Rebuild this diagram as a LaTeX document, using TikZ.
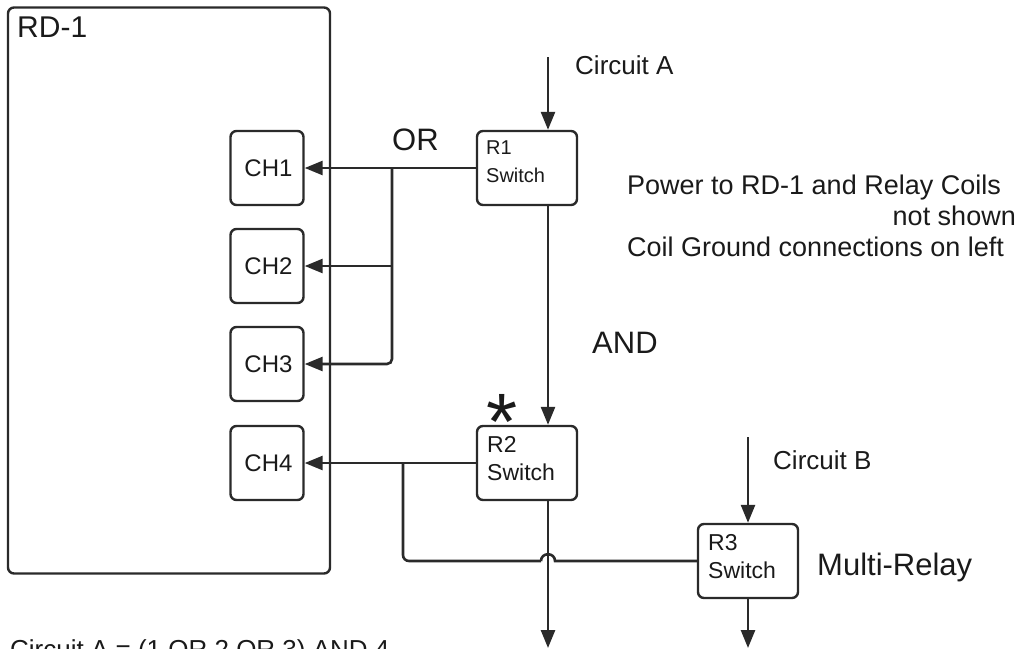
\documentclass[tikz,border=0pt]{standalone}
\usepackage{fontspec}
\setmainfont{Liberation Sans}
\usetikzlibrary{arrows.meta}
\definecolor{ln}{HTML}{2A2A2A}
\definecolor{tx}{HTML}{1A1A1A}
\tikzset{
  box/.style={draw=ln, line width=2.4pt, rounded corners=6pt, fill=white, inner sep=0pt},
  chbox/.style={box, minimum width=73pt, minimum height=74pt, font=\fontsize{24}{28}\selectfont, text=tx},
  relay/.style={box, minimum width=100pt, minimum height=74pt},
  conn/.style={draw=ln, line width=2.6pt},
  arr/.style={conn, -{Triangle[length=18pt,width=14pt]}},
  lbl/.style={text=tx, inner sep=0pt, anchor=base west},
  lblr/.style={text=tx, inner sep=0pt, anchor=base east},
  small/.style={font=\fontsize{20}{24}\selectfont},
  mid/.style={font=\fontsize{23}{27}\selectfont},
  normal/.style={font=\fontsize{26}{30}\selectfont},
  note/.style={font=\fontsize{27}{31}\selectfont},
  big/.style={font=\fontsize{31}{36}\selectfont},
}
\begin{document}
\begin{tikzpicture}[x=1pt,y=-1pt]
\useasboundingbox (0,0) rectangle (1016,648);
% RD-1 enclosure
\node[box, minimum width=322pt, minimum height=566pt] (rd) at (169,290.5) {};
\node[lbl, font=\fontsize{30}{36}\selectfont] (rdl) at (17,37) {RD-1};
% channels
\node[chbox] (ch1) at (267,168) {\hspace{3pt}CH1};
\node[chbox] (ch2) at (267,266) {\hspace{3pt}CH2};
\node[chbox] (ch3) at (267,364) {\hspace{3pt}CH3};
\node[chbox] (ch4) at (267,463) {\hspace{3pt}CH4};
% relays
\node[relay] (r1) at (527,168) {};
\node[lbl, small] (r1a) at (486,154) {R1};
\node[lbl, small] (r1b) at (486,182) {Switch};
\node[relay] (r2) at (527,463) {};
\node[lbl, mid] (r2a) at (487,452) {R2};
\node[lbl, mid] (r2b) at (487,480) {Switch};
\node[relay] (r3) at (748,561) {};
\node[lbl, mid] (r3a) at (708,550) {R3};
\node[lbl, mid] (r3b) at (708,578) {Switch};
% coordinates
\coordinate (ca) at (548,57);
\coordinate (outA) at (548,648);
\coordinate (cb) at (748,437);
\coordinate (outB) at (748,648);
\coordinate (orbus) at (392,168);
\coordinate (j4) at (403,463);
\coordinate (hopL) at (541,561);
\coordinate (hopR) at (555,561);
% connectors
\draw[arr] (ca) -- (ca |- r1.north);
\draw[arr] (r1.south -| ca) -- (r2.north -| ca);
\draw[arr] (r2.south -| ca) -- (outA);
\draw[arr] (r1.west) -- (ch1.east);
\draw[arr, rounded corners=5pt] (orbus) |- (ch3.east);
\draw[arr] (orbus |- ch2.east) -- (ch2.east);
\draw[arr] (r2.west) -- (ch4.east);
\draw[conn, rounded corners=6pt] (j4) |- (hopL);
\draw[conn] (hopL) .. controls (541,552) and (555,552) .. (hopR) -- (r3.west);
\draw[arr] (cb) -- (r3.north);
\draw[arr] (r3.south) -- (outB);
% labels
\node[lbl, normal] (lca) at (575,74) {Circuit A};
\node[lbl, big] (lor) at (392,150) {OR};
\node[lbl, big] (land) at (592,353) {AND};
\node[lbl, font=\fontsize{80}{80}\selectfont] (star) at (486,449) {\smash{*}};
\node[lbl, normal] (lcb) at (773,469) {Circuit B};
\node[lbl, big] (lmr) at (817,575) {Multi-Relay};
\node[lbl, note] (n1) at (627,194) {Power to RD-1 and Relay Coils};
\node[lblr, note] (n2) at (1016,225) {not shown};
\node[lbl, note] (n3) at (627,256) {Coil Ground connections on left};
\node[lbl, normal] (foot) at (10,658) {Circuit A = (1 OR 2 OR 3) AND 4};
\end{tikzpicture}
\end{document}
